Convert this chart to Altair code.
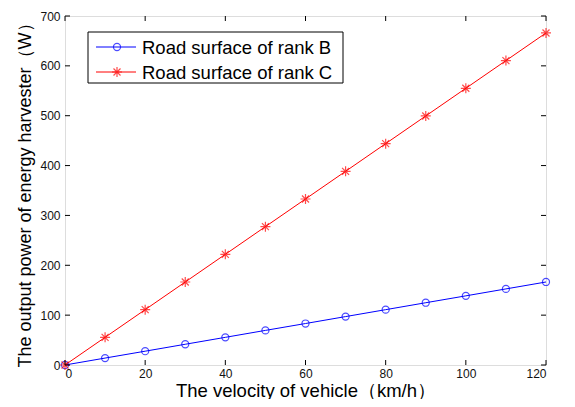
import altair as alt
import pandas as pd

velocity = [0, 10, 20, 30, 40, 50, 60, 70, 80, 90, 100, 110, 120]
rank_b = [0, 13.9, 27.7, 41.6, 55.5, 69.4, 83.2, 97.1, 111.0, 124.9, 138.7, 152.6, 166.5]
rank_c = [0, 55.5, 111.0, 166.5, 222.0, 277.5, 333.0, 388.5, 444.0, 499.5, 555.0, 610.5, 666.0]
series = ["Road surface of rank B", "Road surface of rank C"]
colors = ["#0000ff", "#ff0000"]
x_ticks = [0, 20, 40, 60, 80, 100, 120]
y_ticks = [0, 100, 200, 300, 400, 500, 600, 700]

ASTERISK = "M-1,0L1,0M0,-1L0,1M-0.7,-0.7L0.7,0.7M-0.7,0.7L0.7,-0.7"
shapes = ["circle", ASTERISK]
sizes = [50, 100]

W, H = 481, 349
FONT = "Liberation Sans"

rows = []
for v, b, c in zip(velocity, rank_b, rank_c):
    rows.append({"v": v, "p": b, "s": series[0]})
    rows.append({"v": v, "p": c, "s": series[1]})
df = pd.DataFrame(rows)

xs = alt.Scale(domain=[0, 120], nice=False)
ys = alt.Scale(domain=[0, 700], nice=False)
cs = alt.Scale(domain=series, range=colors)
ss = alt.Scale(domain=series, range=shapes)
zs = alt.Scale(domain=series, range=sizes)

x_enc = alt.X("v:Q", scale=xs, axis=alt.Axis(
    values=x_ticks, grid=False, ticks=False, domain=False, labelFontSize=12,
    labelFont=FONT, labelColor="#111111", labelPadding=3,
    title="The velocity of vehicle（km/h）", titleFont=FONT, titleFontSize=18.5,
    titleFontWeight="normal", titleColor="#000000", titlePadding=2))
y_enc = alt.Y("p:Q", scale=ys, axis=alt.Axis(
    values=y_ticks, grid=False, ticks=False, domain=False, labelFontSize=12,
    labelFont=FONT, labelColor="#111111", labelPadding=5,
    title="The output power of  energy harvester（W）", titleFont=FONT, titleFontSize=18,
    titleFontWeight="normal", titleColor="#000000", titlePadding=5))

base = alt.Chart(df)
lines = base.mark_line(strokeWidth=1).encode(
    x=x_enc, y=y_enc,
    color=alt.Color("s:N", scale=cs, legend=None),
    detail="s:N")
points = base.mark_point(filled=False, strokeWidth=1.2).encode(
    x="v:Q", y="p:Q",
    color=alt.Color("s:N", scale=cs, legend=None),
    shape=alt.Shape("s:N", scale=ss, legend=None),
    size=alt.Size("s:N", scale=zs, legend=None))

xt = pd.DataFrame({"v": x_ticks})
yt = pd.DataFrame({"p": y_ticks})
tick_b = alt.Chart(xt).mark_rule(color="black", strokeWidth=1).encode(
    x=alt.X("v:Q", scale=xs), y=alt.value(H), y2=alt.value(H - 5))
tick_t = alt.Chart(xt).mark_rule(color="black", strokeWidth=1).encode(
    x=alt.X("v:Q", scale=xs), y=alt.value(0), y2=alt.value(5))
tick_l = alt.Chart(yt).mark_rule(color="black", strokeWidth=1).encode(
    y=alt.Y("p:Q", scale=ys), x=alt.value(0), x2=alt.value(5))
tick_r = alt.Chart(yt).mark_rule(color="black", strokeWidth=1).encode(
    y=alt.Y("p:Q", scale=ys), x=alt.value(W), x2=alt.value(W - 5))

leg_box = alt.Chart(pd.DataFrame({"a": [0]})).mark_rect(
    fill="white", stroke="black", strokeWidth=1).encode(
    x=alt.value(23), x2=alt.value(278), y=alt.value(16), y2=alt.value(67))

legend_layers = [leg_box]
for i, name in enumerate(series):
    yy = 31 + 25 * i
    ld = pd.DataFrame({"s": [name]})
    legend_layers.append(alt.Chart(ld).mark_rule(color=colors[i], strokeWidth=1).encode(
        x=alt.value(31), x2=alt.value(71), y=alt.value(yy)))
    legend_layers.append(alt.Chart(ld).mark_point(
        filled=False, strokeWidth=1.2, size=sizes[i], color=colors[i], shape=shapes[i]).encode(
        x=alt.value(52), y=alt.value(yy)))
    legend_layers.append(alt.Chart(ld).mark_text(
        align="left", baseline="middle", font=FONT, fontSize=18.5, color="black").encode(
        x=alt.value(77), y=alt.value(yy + 1), text="s:N"))

chart = alt.layer(lines, points, tick_b, tick_t, tick_l, tick_r, *legend_layers).properties(
    width=W, height=H,
    autosize=alt.AutoSizeParams(type="none"),
    padding={"left": 57, "top": 8, "right": 21, "bottom": 34},
).configure_view(stroke="black", strokeWidth=1).configure(background="white")

chart.save("out.html", embed_options={"renderer": "svg", "actions": False})
